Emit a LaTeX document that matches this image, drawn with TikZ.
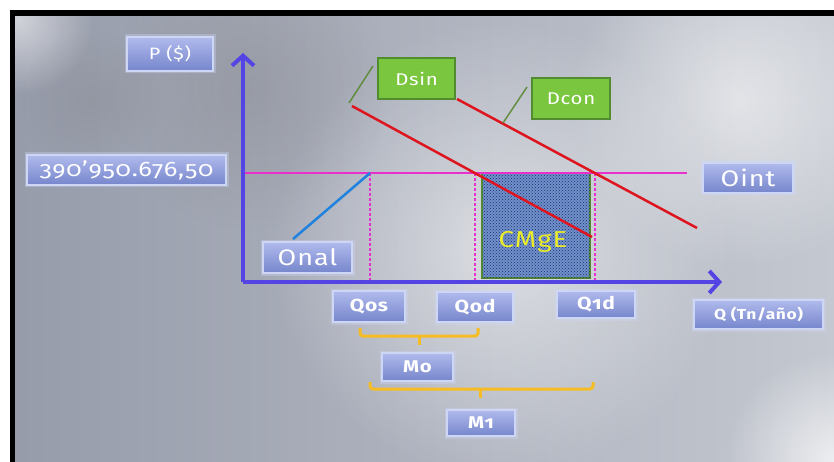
\documentclass[tikz,border=0pt]{standalone}
\usepackage{fontspec}
\setmainfont{Fira Sans}[Numbers=OldStyle, FakeStretch=1.2, LetterSpace=4]
\usetikzlibrary{arrows.meta,patterns,fadings}

\tikzfading[name=softspot, inner color=transparent!0, outer color=transparent!100]

\definecolor{bgL}{RGB}{150,155,170}
\definecolor{bgM}{RGB}{206,209,215}
\definecolor{bgR}{RGB}{196,200,208}
\definecolor{boxTop}{RGB}{176,186,236}
\definecolor{boxBot}{RGB}{118,134,204}
\definecolor{boxEdge}{RGB}{206,214,246}
\definecolor{greenFill}{RGB}{122,198,62}
\definecolor{greenEdge}{RGB}{82,140,48}
\definecolor{axisBlue}{RGB}{84,68,228}
\definecolor{lineMag}{RGB}{232,48,204}
\definecolor{lineRed}{RGB}{222,20,30}
\definecolor{lineBlue}{RGB}{30,130,222}
\definecolor{braceGold}{RGB}{246,188,36}
\definecolor{texBlue}{RGB}{112,144,204}
\definecolor{texDark}{RGB}{30,48,104}
\definecolor{calloutGreen}{RGB}{98,140,62}

\tikzset{
  glassbox/.style={top color=boxTop, bottom color=boxBot, draw=boxEdge,
    line width=1.2pt, text=white, inner sep=0pt,
    preaction={draw=boxEdge, line width=5pt, opacity=0.35}},
  greenbox/.style={fill=greenFill, draw=greenEdge, line width=1.2pt,
    text=white, inner sep=0pt},
  axisline/.style={draw=axisBlue, line width=4pt,
    -{Straight Barb[length=10pt,width=22pt]}},
  dashguide/.style={draw=lineMag, line width=1.5pt, dash pattern=on 3pt off 2pt},
  demand/.style={draw=lineRed, line width=2.5pt},
  callout/.style={draw=calloutGreen, line width=1.5pt},
  bracket/.style={draw=braceGold, line width=3pt, rounded corners=3pt},
  fs/.style={font=\fontsize{#1}{#1}\selectfont},
  fsb/.style={font=\fontsize{#1}{#1}\selectfont\bfseries}
}

\begin{document}
\begin{tikzpicture}[x=1pt,y=-1pt]
\useasboundingbox (0,0) rectangle (834,462);

% soft grey backdrop
\fill[bgR] (-2,-2) rectangle (836,464);
\shade[left color=bgL, middle color=bgM, right color=bgR] (-2,-2) rectangle (836,464);
\begin{scope}
  \clip (15,16) rectangle (834,462);
  \fill[white, opacity=0.55, path fading=softspot] (500,250) circle (230);
  \fill[white, opacity=0.55, path fading=softspot] (740,100) circle (170);
  \fill[white, opacity=0.55, path fading=softspot] (18,20) circle (75);
  \fill[black!55, opacity=0.25, path fading=softspot] (250,90) circle (140);
  \fill[black!55, opacity=0.2, path fading=softspot] (90,100) circle (70);
  \fill[white, opacity=0.7, path fading=softspot] (834,462) circle (110);
\end{scope}

% window frame along the top and left
\fill[white] (-2,-2) rectangle (836,10);
\fill[white] (-2,-2) rectangle (10,464);
\fill[black] (10,10) rectangle (836,16);
\fill[black] (10,10) rectangle (15,464);

% key points of the chart
\coordinate (O) at (243,282);
\coordinate (ytip) at (243,53);
\coordinate (xtip) at (722,282);
\coordinate (pL) at (243,173);
\coordinate (pR) at (687,173);
\coordinate (sA) at (293,239);
\coordinate (sB) at (370,173);
\coordinate (qosTop) at (370,173);
\coordinate (qosBot) at (370,282);
\coordinate (qodTop) at (475,173);
\coordinate (qodBot) at (475,282);
\coordinate (q1dTop) at (595,173);
\coordinate (q1dBot) at (595,282);
\coordinate (dsA) at (352,106);
\coordinate (dsB) at (592,237);
\coordinate (dcA) at (457,99);
\coordinate (dcB) at (697,228);
\coordinate (cs1) at (349,103);
\coordinate (cs2) at (373,66);
\coordinate (cc1) at (503,123);
\coordinate (cc2) at (527,87);

% textured surplus area
\node[minimum width=108pt, minimum height=105pt, inner sep=0pt,
  fill=texBlue, draw=greenEdge, line width=1.5pt,
  postaction={pattern=crosshatch dots, pattern color=texDark}]
  (cmge) at (536,225.5) {};
\node[text={rgb,255:red,236;green,236;blue,40}, fs=23, inner sep=0pt]
  (cmgetext) at (533,242) {CMgE};

% guide lines
\draw[dashguide] (qosTop) -- (qosBot);
\draw[dashguide] (qodTop) -- (qodBot);
\draw[dashguide] (q1dTop) -- (q1dBot);
\draw[draw=lineMag, line width=2pt] (pL) -- (pR);

% supply and demand curves
\draw[draw=lineBlue, line width=2.5pt] (sA) -- (sB);
\draw[demand] (dsA) -- (dsB);
\draw[demand] (dcA) -- (dcB);
\draw[callout] (cs1) -- (cs2);
\draw[callout] (cc1) -- (cc2);

% axes
\draw[axisline] (O) -- (ytip);
\draw[axisline] (O) -- (xtip);

% labels
\node[glassbox, minimum width=86pt, minimum height=34pt, fs=16.5]
  (py) at (170,54) {P (\$)};
\node[glassbox, minimum width=199pt, minimum height=30pt, fs=21]
  (price) at (126.5,170) {390’950.676,50};
\node[glassbox, minimum width=89pt, minimum height=31pt, fs=22.5]
  (onal) at (307.5,257.5) {Onal};
\node[glassbox, minimum width=90pt, minimum height=30pt, fs=22.5]
  (oint) at (748,178) {Oint};
\node[glassbox, minimum width=72pt, minimum height=31pt, fsb=17.5]
  (qos) at (369,306.5) {Qos};
\node[glassbox, minimum width=76pt, minimum height=30pt, fsb=17.5]
  (qod) at (475,307) {Qod};
\node[glassbox, minimum width=78pt, minimum height=27pt, fsb=17.5]
  (q1d) at (596,304.5) {Q1d};
\node[glassbox, minimum width=129pt, minimum height=29pt, fsb=14.5]
  (qaxis) at (758.5,314.5) {Q (Tn/año)};
\node[glassbox, minimum width=71pt, minimum height=28pt, fsb=17]
  (mo) at (417.5,367) {Mo};
\node[glassbox, minimum width=68pt, minimum height=26pt, fsb=17]
  (m1) at (481,423) {M1};
\node[greenbox, minimum width=77pt, minimum height=41pt, fs=17]
  (dsin) at (416.5,78.5) {Dsin};
\node[greenbox, minimum width=78pt, minimum height=41pt, fs=17]
  (dcon) at (571,98.5) {Dcon};

% brackets grouping the quantities
\draw[bracket] (360,328) -- (360,336) -- (478,336) -- (478,328);
\draw[draw=braceGold, line width=3pt] (419,336) -- (419,345);
\draw[bracket] (370,382) -- (370,389) -- (593,389) -- (593,382);
\draw[draw=braceGold, line width=3pt] (480,389) -- (480,398);
\end{tikzpicture}
\end{document}
